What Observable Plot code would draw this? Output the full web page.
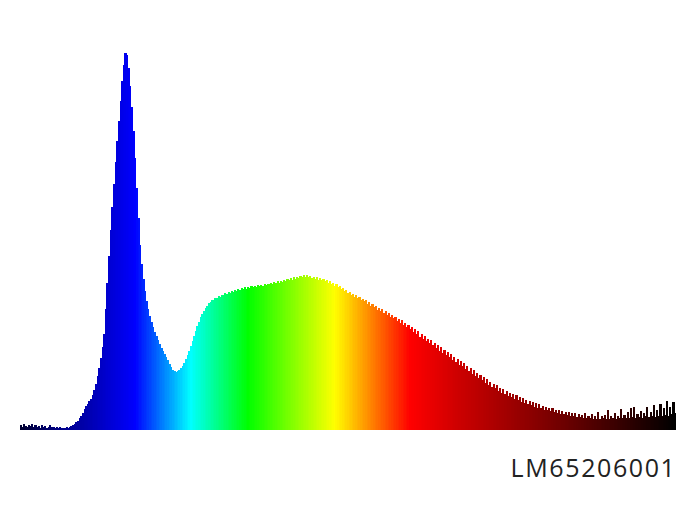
<!DOCTYPE html>
<html>
<head>
<meta charset="utf-8">
<script src="https://cdn.jsdelivr.net/npm/d3@7"></script>
<script src="https://cdn.jsdelivr.net/npm/@observablehq/plot@0.6"></script>
<style>
  html, body { margin: 0; padding: 0; background: #fff; }
  #chart { width: 700px; height: 525px; }
</style>
</head>
<body>
<div id="chart"></div>
<script>
// Relative spectral intensity (peak ~1000), one sample per nm from 380 nm to 780 nm
const startNm = 380;
const intensity = [
  14, 9, 16, 11, 8, 13, 10, 15, 7, 12,
  9, 11, 6, 13, 8, 10, 5, 9, 12, 7,
  8, 6, 9, 5, 7, 4, 6, 5, 7, 6,
  8, 10, 13, 16, 20, 25, 31, 38, 46, 55,
  63, 70, 76, 82, 92, 105, 122, 142, 165, 190,
  220, 255, 320, 390, 460, 530, 590, 650, 710, 765,
  818, 870, 922, 966, 997, 992, 958, 910, 855, 790,
  720, 640, 560, 490, 440, 400, 368, 342, 320, 302,
  287, 273, 260, 248, 237, 227, 218, 209, 201, 193,
  184, 175, 167, 160, 156, 154, 155, 158, 163, 170,
  178, 187, 198, 210, 222, 235, 248, 261, 274, 286,
  298, 308, 316, 323, 329, 335, 339, 344, 345, 350,
  349, 354, 353, 358, 357, 362, 360, 365, 363, 368,
  366, 370, 368, 373, 370, 375, 372, 377, 374, 378,
  376, 380, 377, 381, 379, 383, 380, 384, 381, 386,
  383, 387, 385, 389, 386, 391, 388, 393, 390, 395,
  392, 397, 394, 399, 396, 401, 398, 404, 400, 406,
  402, 408, 404, 410, 405, 409, 404, 408, 402, 406,
  400, 404, 398, 402, 396, 399, 393, 397, 390, 394,
  386, 390, 382, 385, 377, 380, 372, 376, 367, 370,
  362, 366, 357, 361, 352, 356, 348, 352, 343, 347,
  340, 343, 334, 338, 329, 333, 325, 329, 318, 323,
  315, 319, 310, 314, 304, 309, 299, 305, 295, 300,
  289, 294, 284, 290, 278, 283, 272, 279, 266, 272,
  260, 267, 254, 261, 247, 253, 242, 248, 236, 242,
  230, 237, 224, 231, 217, 225, 210, 219, 204, 212,
  199, 207, 193, 200, 186, 194, 180, 189, 173, 182,
  168, 177, 161, 170, 155, 164, 149, 158, 142, 151,
  137, 146, 131, 140, 125, 134, 120, 128, 114, 122,
  110, 118, 104, 112, 99, 108, 96, 103, 90, 99,
  88, 95, 82, 93, 79, 88, 75, 84, 72, 80,
  69, 77, 66, 73, 62, 71, 59, 68, 57, 64,
  54, 62, 52, 58, 49, 57, 47, 54, 45, 52,
  43, 50, 42, 47, 40, 48, 38, 44, 37, 46,
  35, 42, 34, 40, 33, 45, 32, 38, 31, 42,
  30, 37, 30, 48, 29, 36, 31, 40, 29, 52,
  30, 36, 31, 44, 30, 38, 32, 55, 31, 40,
  33, 47, 32, 58, 34, 62, 31, 42, 35, 50,
  33, 45, 36, 60, 34, 48, 37, 66, 35, 52,
  38, 70, 36, 58, 40, 78, 38, 62, 42, 74,
  45
];

// Wavelength colour ramp (nm -> colour)
const colorStopsNm = [380, 404, 423, 450, 484, 519, 572, 618, 648, 700, 740, 780];
const colorStops = ["#000030", "#000088", "#0000b4", "#0000ff", "#00ffff", "#00ff00",
                    "#ffff00", "#ff0000", "#cc0000", "#800000", "#400000", "#000000"];

const label = "LM65206001";

const data = intensity.map((v, i) => ({ nm: startNm + i, v }));

const plot = Plot.plot({
  width: 700,
  height: 525,
  marginLeft: 20,
  marginRight: 24,
  marginTop: 52,
  marginBottom: 95,
  x: { domain: [379.5, 780.5], axis: null },
  y: { domain: [0, 1000], axis: null },
  color: { type: "linear", domain: colorStopsNm, range: colorStops, interpolate: "rgb" },
  style: { background: "#fff" },
  marks: [
    Plot.rectY(data, {
      x1: d => d.nm - 0.65,
      x2: d => d.nm + 0.65,
      y: "v",
      fill: "nm",
      inset: 0,
      shapeRendering: "crispEdges"
    }),
    Plot.text([label], {
      x: 780.5,
      y: 0,
      text: d => d,
      dy: 38,
      textAnchor: "end",
      fontSize: 25,
      fill: "#222",
      fontFamily: "Open Sans"
    })
  ]
});

d3.select(plot).selectAll("text").attr("letter-spacing", "1.6px");
document.getElementById("chart").appendChild(plot);
</script>
</body>
</html>
